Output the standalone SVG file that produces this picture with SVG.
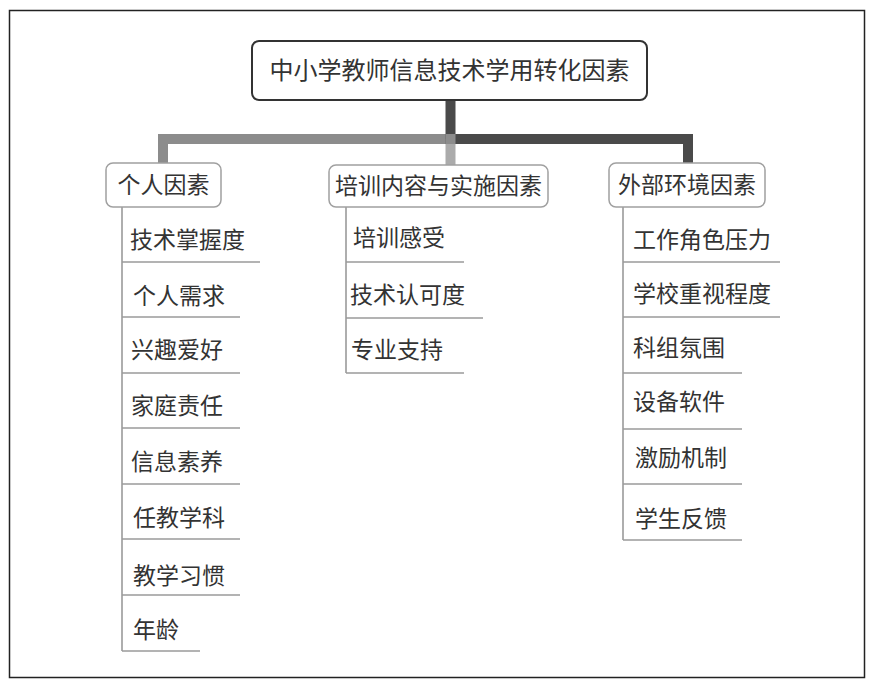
<svg xmlns="http://www.w3.org/2000/svg" width="876" height="689" viewBox="0 0 876 689">
<style>
text{font-family:"Noto Sans CJK SC","Noto Sans",sans-serif;fill:#333}
.root{font-size:24px}
.l1{font-size:23px}
.leaf{font-size:23px}
.rbox{fill:#fff;stroke:#333;stroke-width:2}
.box{fill:#fff;stroke:#a0a0a0;stroke-width:1.5}
.tree{stroke:#9a9a9a;stroke-width:1.6;fill:none}
</style>
<rect x="0" y="0" width="876" height="689" fill="#fff"/>
<rect x="9.5" y="10.5" width="855" height="667" fill="none" stroke="#222" stroke-width="1.5"/>
<g id="connectors" fill="none">
<path d="M450.5 139 H163 V164" stroke="#8c8c8c" stroke-width="10"/>
<path d="M450.5 139 V166" stroke="#ababab" stroke-width="10"/>
<path d="M450.5 100 V139 H688 V164" stroke="#4a4a4a" stroke-width="10"/>
<rect x="445.5" y="134" width="10" height="10" fill="#8c8c8c"/>
<g class="tree">
<path d="M122 207 V651"/>
<path d="M122 262 H260 M122 317 H240 M122 373 H240 M122 428 H240 M122 484 H240 M122 539 H240 M122 595 H240 M122 651 H200"/>
<path d="M346 207 V373"/>
<path d="M346 262 H464 M346 318 H483 M346 373 H464"/>
<path d="M623 207 V540"/>
<path d="M623 262 H780 M623 317 H780 M623 373 H742 M623 429 H742 M623 484 H742 M623 540 H742"/>
</g>
</g>
<g id="root">
<rect class="rbox" x="252" y="41" width="395" height="59" rx="7"/>
<text class="root" x="449.5" y="79" text-anchor="middle">中小学教师信息技术学用转化因素</text>
</g>
<g id="n-personal">
<rect class="box" x="106" y="163" width="115" height="44" rx="7"/>
<text class="l1" x="163.5" y="193" text-anchor="middle">个人因素</text>
</g>
<g id="n-training">
<rect class="box" x="329" y="165" width="219" height="42" rx="7"/>
<text class="l1" x="438.5" y="194" text-anchor="middle">培训内容与实施因素</text>
</g>
<g id="n-external">
<rect class="box" x="609" y="163" width="156" height="44" rx="7"/>
<text class="l1" x="687" y="193" text-anchor="middle">外部环境因素</text>
</g>
<g id="leaves-personal">
<text class="leaf" x="130" y="248">技术掌握度</text>
<text class="leaf" x="133" y="304">个人需求</text>
<text class="leaf" x="131" y="358">兴趣爱好</text>
<text class="leaf" x="131" y="414">家庭责任</text>
<text class="leaf" x="131" y="470">信息素养</text>
<text class="leaf" x="133" y="526">任教学科</text>
<text class="leaf" x="133" y="584">教学习惯</text>
<text class="leaf" x="133" y="638">年龄</text>
</g>
<g id="leaves-training">
<text class="leaf" x="353" y="246">培训感受</text>
<text class="leaf" x="350" y="303">技术认可度</text>
<text class="leaf" x="351" y="358">专业支持</text>
</g>
<g id="leaves-external">
<text class="leaf" x="633" y="248">工作角色压力</text>
<text class="leaf" x="633" y="302">学校重视程度</text>
<text class="leaf" x="633" y="356">科组氛围</text>
<text class="leaf" x="633" y="410">设备软件</text>
<text class="leaf" x="635" y="466">激励机制</text>
<text class="leaf" x="635" y="527">学生反馈</text>
</g>
</svg>
